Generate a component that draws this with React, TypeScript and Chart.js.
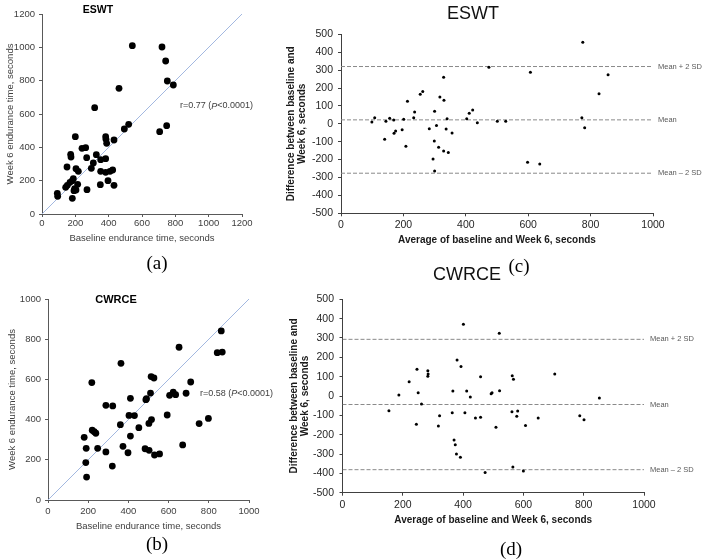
import React, { useEffect, useRef } from "react";
import { Chart, registerables } from "chart.js";
Chart.register(...registerables);

const SANS = "'Liberation Sans', Arial, sans-serif";
const SERIF = "'Liberation Serif', 'Times New Roman', serif";

// ---------- (a) ESWT: baseline vs week 6 endurance time ----------
const eswtBaseline = [542, 720, 742, 752, 788, 462, 316, 520, 494, 706, 748, 200, 382, 384, 388, 432, 240, 262, 172, 174, 268, 326, 352, 382, 150, 204, 218, 296, 308, 352, 382, 408, 424, 396, 350, 432, 188, 182, 168, 152, 142, 214, 196, 204, 192, 270, 182, 92, 94];
const eswtWeek6 = [1010, 1002, 918, 798, 774, 754, 638, 538, 510, 494, 530, 464, 464, 448, 424, 444, 394, 398, 358, 342, 338, 356, 326, 332, 282, 272, 256, 274, 306, 256, 250, 256, 264, 200, 176, 172, 212, 200, 190, 172, 160, 178, 152, 144, 140, 146, 94, 124, 106];

// ---------- (b) CWRCE: baseline vs week 6 endurance time ----------
const cwrceBaseline = [862, 842, 867, 652, 363, 218, 513, 527, 710, 510, 487, 490, 410, 288, 322, 605, 623, 635, 687, 403, 430, 593, 515, 502, 360, 452, 220, 230, 238, 180, 410, 752, 798, 190, 247, 373, 288, 398, 483, 503, 530, 555, 670, 188, 320, 192];
const cwrceWeek6 = [841, 733, 736, 760, 680, 584, 614, 607, 587, 532, 499, 504, 506, 471, 468, 521, 537, 524, 531, 421, 420, 423, 400, 381, 375, 360, 347, 340, 332, 312, 318, 380, 406, 257, 257, 267, 239, 235, 255, 247, 224, 229, 274, 186, 169, 114];

// ---------- (c) ESWT Bland-Altman ----------
const eswtAverage = [99, 108, 140, 144, 156, 169, 170, 175, 196, 201, 208, 213, 233, 236, 254, 262, 283, 295, 300, 299, 300, 306, 313, 317, 329, 330, 329, 337, 340, 344, 356, 403, 411, 422, 437, 474, 501, 528, 775, 607, 856, 827, 772, 781, 598, 637];
const eswtDifference = [10, 34, -87, 14, 31, 21, -53, -40, -33, 25, -126, 126, 34, 66, 165, 181, -27, -197, 70, -96, -264, -9, -131, 150, 260, 131, -152, -29, 28, -161, -51, 28, 59, 77, 6, 316, 14, 14, 455, 288, 274, 168, 34, -22, -215, -225];
const eswtLimits = [320, 22, -276];

// ---------- (d) CWRCE Bland-Altman ----------
const cwrceAverage = [401, 520, 380, 393, 247, 283, 284, 283, 221, 458, 187, 251, 366, 412, 424, 493, 496, 521, 262, 154, 364, 406, 322, 441, 458, 245, 318, 509, 370, 374, 378, 391, 473, 563, 567, 704, 852, 562, 581, 578, 607, 649, 787, 801, 565, 600];
const cwrceDifference = [371, 324, 186, 152, 138, 131, 114, 102, 74, 100, 5, 17, 26, 26, -5, 12, 17, 27, -41, -76, -86, -86, -102, -114, -110, -146, -155, -162, -228, -252, -300, -317, -395, 105, 86, 114, -10, -81, -78, -105, -152, -114, -102, -123, -367, -388];
const cwrceLimits = [293, -44, -381];

const limitLabels = ["Mean + 2 SD", "Mean", "Mean \u2013 2 SD"];
const eswtR = ["r=0.77 (", "P", "<0.0001)"];
const cwrceR = ["r=0.58 (", "P", "<0.0001)"];
const eswtRAnchor = [828, 648];
const cwrceRAnchor = [756, 532];

type Pt = { x: number; y: number };
const zip = (xs: number[], ys: number[]): Pt[] => xs.map((x, i) => ({ x, y: ys[i] }));

function makeAxis(s: any, isX: boolean) {
  return {
    type: "linear",
    position: isX ? "bottom" : "left",
    min: s.min,
    max: s.max,
    ticks: {
      stepSize: s.step,
      color: s.tickColor,
      font: { family: SANS, size: s.tickSize },
      padding: s.tickPad,
      callback: (v: any) => String(v),
      maxRotation: 0,
      autoSkip: false,
    },
    grid: { drawOnChartArea: false, drawTicks: true, tickLength: 3, color: s.lineColor },
    border: { display: true, color: s.lineColor, width: 1 },
    title: {
      display: true,
      text: s.title,
      color: s.titleColor,
      font: { family: SANS, size: s.titleSize, weight: s.bold ? "bold" : "normal", lineHeight: s.titleLH },
      padding: s.titlePad,
    },
    afterFit: (scale: any) => {
      if (isX) scale.height = s.size;
      else scale.width = s.size;
    },
  };
}

const rTextPlugin = (anchor: number[], parts: string[]) => ({
  id: "rtext",
  afterDatasetsDraw(chart: any) {
    const ctx = chart.ctx;
    let x = chart.scales.x.getPixelForValue(anchor[0]);
    const y = chart.scales.y.getPixelForValue(anchor[1]);
    ctx.save();
    ctx.fillStyle = "#404040";
    ctx.textBaseline = "middle";
    ctx.textAlign = "left";
    parts.forEach((t, i) => {
      ctx.font = `${i === 1 ? "italic " : ""}9px ${SANS}`;
      ctx.fillText(t, x, y);
      x += ctx.measureText(t).width;
    });
    ctx.restore();
  },
});

const limitLabelPlugin = (values: number[], gap: number) => ({
  id: "limitLabels",
  afterDatasetsDraw(chart: any) {
    const ctx = chart.ctx;
    const right = chart.chartArea.right;
    ctx.save();
    ctx.font = `7.5px ${SANS}`;
    ctx.fillStyle = "#595959";
    ctx.textBaseline = "middle";
    ctx.textAlign = "left";
    values.forEach((v, i) => ctx.fillText(limitLabels[i], right + gap, chart.scales.y.getPixelForValue(v)));
    ctx.restore();
  },
});

function scatterPanel(p: any) {
  return {
    type: "scatter",
    data: {
      datasets: [
        { data: zip(p.xs, p.ys), pointRadius: 3.4, pointBackgroundColor: "#000", pointBorderWidth: 0, showLine: false },
        {
          data: [{ x: 0, y: 0 }, { x: p.max, y: p.max }],
          showLine: true,
          pointRadius: 0,
          borderColor: "#a3b8e0",
          borderWidth: 1,
        },
      ],
    },
    options: {
      responsive: false,
      animation: false,
      events: [],
      layout: { padding: p.padding },
      plugins: { legend: { display: false }, tooltip: { enabled: false } },
      scales: {
        x: makeAxis(
          {
            min: 0, max: p.max, step: 200, tickColor: "#404040", tickSize: 9.5, tickPad: p.xTickPad,
            lineColor: "#595959", title: "Baseline endurance time, seconds", titleColor: "#404040",
            titleSize: 9.5, titleLH: 1.2, bold: false, titlePad: { top: 0, bottom: p.xTitlePad }, size: p.xSize,
          },
          true
        ),
        y: makeAxis(
          {
            min: 0, max: p.max, step: 200, tickColor: "#404040", tickSize: 9.5, tickPad: 4,
            lineColor: "#595959", title: "Week 6 endurance time, seconds", titleColor: "#404040",
            titleSize: 9.5, titleLH: 1.2, bold: false, titlePad: { top: p.yTitlePad, bottom: 0 }, size: p.ySize,
          },
          false
        ),
      },
    },
    plugins: [rTextPlugin(p.anchor, p.rText)],
  };
}

function baPanel(p: any) {
  return {
    type: "scatter",
    data: {
      datasets: [
        { data: zip(p.xs, p.ys), pointRadius: 1.5, pointBackgroundColor: "#000", pointBorderWidth: 0, showLine: false },
        ...p.limits.map((v: number) => ({
          data: [{ x: 0, y: v }, { x: 1000, y: v }],
          showLine: true,
          pointRadius: 0,
          borderColor: "#8a8a8a",
          borderWidth: 1,
          borderDash: [4, 2],
        })),
      ],
    },
    options: {
      responsive: false,
      animation: false,
      events: [],
      layout: { padding: p.padding },
      plugins: { legend: { display: false }, tooltip: { enabled: false } },
      scales: {
        x: makeAxis(
          {
            min: 0, max: 1000, step: 200, tickColor: "#262626", tickSize: 10.5, tickPad: 3,
            lineColor: "#404040", title: "Average of baseline and Week 6, seconds", titleColor: "#1a1a1a",
            titleSize: 10, titleLH: 1.1, bold: true, titlePad: { top: 0, bottom: p.xTitlePad }, size: p.xSize,
          },
          true
        ),
        y: makeAxis(
          {
            min: -500, max: 500, step: 100, tickColor: "#262626", tickSize: 10.5, tickPad: p.yTickPad,
            lineColor: "#404040", title: ["Difference between baseline and", "Week 6, seconds"], titleColor: "#1a1a1a",
            titleSize: 10, titleLH: 1.1, bold: true, titlePad: { top: p.yTitlePad, bottom: 0 }, size: p.ySize,
          },
          false
        ),
      },
    },
    plugins: [limitLabelPlugin(p.limits, p.labelGap)],
  };
}

function Panel({ left, top, width, height, build }: any) {
  const ref = useRef<HTMLCanvasElement>(null);
  useEffect(() => {
    const chart = new Chart(ref.current as HTMLCanvasElement, build() as any);
    return () => chart.destroy();
  }, []);
  return (
    <canvas
      ref={ref}
      width={width}
      height={height}
      style={{ position: "absolute", left, top, width, height }}
    />
  );
}

function Label({ x, y, text, font, color = "#000" }: any) {
  return (
    <div
      style={{
        position: "absolute",
        left: x,
        top: y,
        transform: "translate(-50%, -50%)",
        font,
        color,
        lineHeight: 1,
        whiteSpace: "nowrap",
      }}
    >
      {text}
    </div>
  );
}

export default function App() {
  return (
    <div style={{ position: "fixed", left: 0, top: 0, width: 715, height: 559, background: "#fff", overflow: "hidden" }}>
      <Panel
        left={0}
        top={0}
        width={270}
        height={250}
        build={() =>
          scatterPanel({
            xs: eswtBaseline, ys: eswtWeek6, max: 1200,
            padding: { left: 0, top: 14, right: 28, bottom: 0 },
            xSize: 36, ySize: 42, xTickPad: 1, xTitlePad: 6.3, yTitlePad: 4.3,
            anchor: eswtRAnchor, rText: eswtR,
          })
        }
      />
      <Panel
        left={0}
        top={280}
        width={290}
        height={260}
        build={() =>
          scatterPanel({
            xs: cwrceBaseline, ys: cwrceWeek6, max: 1000,
            padding: { left: 0, top: 19, right: 41, bottom: 0 },
            xSize: 40, ySize: 48, xTickPad: 3, xTitlePad: 7.6, yTitlePad: 6.8,
            anchor: cwrceRAnchor, rText: cwrceR,
          })
        }
      />
      <Panel
        left={275}
        top={0}
        width={440}
        height={250}
        build={() =>
          baPanel({
            xs: eswtAverage, ys: eswtDifference, limits: eswtLimits,
            padding: { left: 0, top: 34.3, right: 62, bottom: 0 },
            xSize: 36.7, ySize: 66, xTitlePad: 4.5, yTitlePad: 10.5, yTickPad: 5, labelGap: 5,
          })
        }
      />
      <Panel
        left={275}
        top={280}
        width={440}
        height={279}
        build={() =>
          baPanel({
            xs: cwrceAverage, ys: cwrceDifference, limits: cwrceLimits,
            padding: { left: 0, top: 19.3, right: 71, bottom: 0 },
            xSize: 66.3, ySize: 67.5, xTitlePad: 32.8, yTitlePad: 13.5, yTickPad: 5.5, labelGap: 6,
          })
        }
      />
      <Label x={98} y={8.5} text="ESWT" font={`bold 10.5px ${SANS}`} />
      <Label x={116} y={298.5} text="CWRCE" font={`bold 11px ${SANS}`} />
      <Label x={473} y={13} text="ESWT" font={`18px ${SANS}`} color="#111" />
      <Label x={467} y={274} text="CWRCE" font={`18px ${SANS}`} color="#111" />
      <Label x={157} y={262} text="(a)" font={`19px ${SERIF}`} />
      <Label x={157} y={542.5} text="(b)" font={`19px ${SERIF}`} />
      <Label x={519} y={264.5} text="(c)" font={`19px ${SERIF}`} />
      <Label x={511} y={548} text="(d)" font={`19px ${SERIF}`} />
    </div>
  );
}
